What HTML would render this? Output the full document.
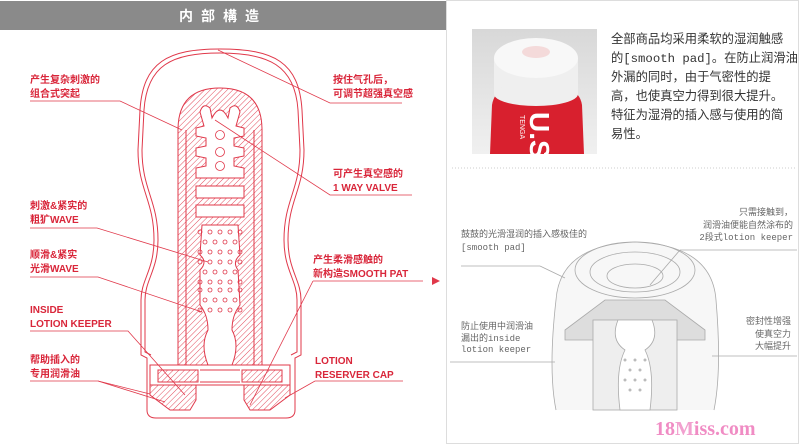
<!DOCTYPE html>
<html><head><meta charset="utf-8"><style>
html,body{margin:0;padding:0;background:#fff;width:800px;height:444px;overflow:hidden}
svg{display:block}
.r{font-family:"Liberation Sans","Noto Sans CJK SC",sans-serif;font-size:10px;font-weight:bold;fill:#d9263a}
.g{font-family:"Liberation Mono","Noto Sans CJK SC",monospace;font-size:9px;fill:#666}
.t{font-family:"Liberation Mono","Noto Sans CJK SC",monospace;font-size:12.3px;fill:#333}
</style></head><body>
<svg width="800" height="444" viewBox="0 0 800 444" xmlns="http://www.w3.org/2000/svg">
<defs>
<pattern id="h" width="4" height="4" patternUnits="userSpaceOnUse" patternTransform="rotate(45)">
<rect width="4" height="4" fill="#fff"/><line x1="0" y1="0" x2="0" y2="4" stroke="#e0384a" stroke-width="0.9"/></pattern>
<linearGradient id="bg" x1="0" y1="0" x2="0" y2="1"><stop offset="0" stop-color="#d8d8d8"/><stop offset="1" stop-color="#f0f0f0"/></linearGradient>
</defs>
<rect x="0" y="1" width="446" height="29" fill="#8a8a8a"/>
<text x="223" y="21" text-anchor="middle" font-family="Liberation Sans,Noto Sans CJK SC,sans-serif" font-size="14" font-weight="bold" fill="#fff" letter-spacing="8">内部構造</text>
<rect x="446.5" y="0.5" width="352" height="443" fill="none" stroke="#ddd"/>

<g fill="none" stroke="#e0384a" stroke-width="1">
<path d="M220,49 C168,49 143,62 140,110 L138,150 C138,190 154,200 154,240 C154,270 141,280 141,300 L141,355 L147,358 L147,410 Q147,418 156,418 L286,418 Q295,418 295,410 L295,358 L301,355 L301,300 C301,280 288,270 288,240 C288,200 304,190 304,150 L302,110 C299,62 274,49 220,49 Z"/>
<path d="M220,53 C172,53 147,65 144,110 L142,150 C142,190 158,200 158,240 C158,270 145,280 145,300 L145,352 L151,355"/>
<path d="M220,53 C268,53 295,65 298,110 L300,150 C300,190 284,200 284,240 C284,270 297,280 297,300 L297,352 L291,355"/>
</g>
<path d="M178,365 L178,130 Q178,88 220,88 Q262,88 262,130 L262,365 Z" fill="url(#h)" stroke="#e0384a"/>
<line x1="186" y1="130" x2="186" y2="365" stroke="#e0384a"/>
<line x1="254" y1="130" x2="254" y2="365" stroke="#e0384a"/>
<path d="M200,112 Q203,102 210,108 L212,118 Q220,102 228,118 L230,108 Q237,102 240,112 L236,126 L244,128 L244,136 L234,138 L234,146 L244,148 L244,156 L234,158 L234,166 L244,168 L244,178 L196,178 L196,168 L206,166 L206,158 L196,156 L196,148 L206,146 L206,138 L196,136 L196,128 L204,126 Z" fill="#fff" stroke="#e0384a"/>
<rect x="196" y="186" width="48" height="12" fill="#fff" stroke="#e0384a"/>
<rect x="196" y="205" width="48" height="12" fill="#fff" stroke="#e0384a"/>
<path d="M202,225 L238,225 L240,255 Q232,262 238,270 L240,305 Q232,315 232,330 Q240,345 232,365 L208,365 Q200,345 208,330 Q208,315 200,305 L200,270 Q208,262 200,255 Z" fill="#fff" stroke="#e0384a"/>
<g fill="none" stroke="#e0384a" stroke-width="0.8">
<circle cx="220" cy="135" r="4.5"/><circle cx="220" cy="152" r="4.5"/><circle cx="220" cy="166" r="4.5"/>
<g id="dots">
<circle cx="200" cy="232" r="2"/><circle cx="210" cy="232" r="2"/><circle cx="220" cy="232" r="2"/><circle cx="230" cy="232" r="2"/><circle cx="240" cy="232" r="2"/>
<circle cx="205" cy="242" r="2"/><circle cx="215" cy="242" r="2"/><circle cx="225" cy="242" r="2"/><circle cx="235" cy="242" r="2"/>
<circle cx="200" cy="252" r="2"/><circle cx="210" cy="252" r="2"/><circle cx="220" cy="252" r="2"/><circle cx="230" cy="252" r="2"/><circle cx="240" cy="252" r="2"/>
</g>
<use href="#dots" y="30"/><use href="#dots" y="58"/>
</g>
<g stroke="#e0384a" fill="none">
<rect x="150" y="365" width="140" height="20" fill="#fff"/>
<rect x="158" y="370" width="40" height="12" fill="url(#h)"/>
<rect x="242" y="370" width="40" height="12" fill="url(#h)"/>
<path d="M150,385 L196,385 L196,400 L190,410 L170,410 L150,395 Z" fill="url(#h)"/>
<path d="M290,385 L244,385 L244,400 L250,410 L270,410 L290,395 Z" fill="url(#h)"/>
<line x1="200" y1="370" x2="240" y2="370"/><line x1="200" y1="382" x2="240" y2="382"/>
</g>
<g stroke="#e0384a" stroke-width="0.8" fill="none">
<polyline points="30,101 120,101 182,130"/>
<polyline points="402,103 330,103 218,50"/>
<polyline points="412,195 330,195 215,120"/>
<polyline points="30,228 97,228 208,262"/>
<polyline points="30,277 98,277 202,312"/>
<polyline points="313,281 423,281"/>
<polyline points="313,281 250,405"/>
<polyline points="30,331 128,331 185,395"/>
<polyline points="30,381 98,381 150,394"/>
<line x1="98" y1="381" x2="165" y2="402"/>
<polyline points="403,381 315,381 285,398"/>
</g>
<path d="M432,277 L440,281 L432,285 Z" fill="#e0384a"/>
<text class="r" x="30" y="83">产生复杂刺激的</text><text class="r" x="30" y="97">组合式突起</text>
<text class="r" x="333" y="83">按住气孔后，</text><text class="r" x="333" y="97">可调节超强真空感</text>
<text class="r" x="333" y="177">可产生真空感的</text><text class="r" x="333" y="191">1 WAY VALVE</text>
<text class="r" x="30" y="209">刺激&amp;紧实的</text><text class="r" x="30" y="223">粗犷WAVE</text>
<text class="r" x="30" y="258">顺滑&amp;紧实</text><text class="r" x="30" y="272">光滑WAVE</text>
<text class="r" x="313" y="263">产生柔滑感触的</text><text class="r" x="313" y="277">新构造SMOOTH PAT</text>
<text class="r" x="30" y="313">INSIDE</text><text class="r" x="30" y="327">LOTION KEEPER</text>
<text class="r" x="30" y="363">帮助插入的</text><text class="r" x="30" y="377">专用润滑油</text>
<text class="r" x="315" y="364">LOTION</text><text class="r" x="315" y="378">RESERVER CAP</text>

<!-- photo -->
<rect x="472" y="29" width="125" height="125" fill="url(#bg)"/>
<path d="M490,154 L492,105 Q494,92 505,90 L568,90 Q580,92 582,105 L584,154 Z" fill="#d8202e"/>
<rect x="494" y="58" width="84" height="36" fill="#efefef"/>
<ellipse cx="536" cy="94" rx="42" ry="12" fill="#efefef"/>
<ellipse cx="536" cy="58" rx="42" ry="20" fill="#f8f8f8"/>
<ellipse cx="536" cy="52" rx="14" ry="6" fill="#f4dada"/>
<text x="530" y="112" font-family="Liberation Sans,sans-serif" font-size="28" font-weight="bold" fill="#fff" transform="rotate(90 530 112)">U.S</text>
<text x="520" y="115" font-family="Liberation Sans,sans-serif" font-size="7" fill="#fff" transform="rotate(90 520 115)">TENGA</text>
<text class="t" x="611" y="43">全部商品均采用柔软的湿润触感</text>
<text class="t" x="611" y="62">的[smooth pad]。在防止润滑油</text>
<text class="t" x="611" y="81">外漏的同时，由于气密性的提</text>
<text class="t" x="611" y="100">高，也使真空力得到很大提升。</text>
<text class="t" x="611" y="119">特征为湿滑的插入感与使用的简</text>
<text class="t" x="611" y="138">易性。</text>
<line x1="452" y1="168" x2="795" y2="168" stroke="#ccc" stroke-dasharray="1,2"/>
<g stroke="#aaa" fill="none" stroke-width="0.8">
<path d="M556,410 Q548,370 556,300 Q560,245 635,242 Q712,245 716,300 Q722,370 714,410" fill="#f7f7f7"/>
<ellipse cx="635" cy="270" rx="60" ry="28"/>
<ellipse cx="635" cy="272" rx="45" ry="20"/>
<ellipse cx="635" cy="276" rx="28" ry="12"/>
<path d="M565,330 L605,300 L665,300 L705,330 L705,340 L565,340 Z" fill="#ddd"/>
<rect x="593" y="320" width="84" height="90" fill="#eee"/>
<path d="M618,320 Q610,340 625,350 Q615,370 620,410 L650,410 Q655,370 645,350 Q660,340 652,320 Z" fill="#fff"/>
<line x1="461" y1="266" x2="540" y2="266"/><line x1="540" y1="266" x2="565" y2="278"/>
<line x1="450" y1="362" x2="555" y2="362"/>
<line x1="680" y1="250" x2="797" y2="250"/><line x1="680" y1="250" x2="650" y2="285"/>
<line x1="712" y1="356" x2="797" y2="356"/>
</g>
<g fill="#bbb"><circle cx="625" cy="360" r="1.5"/><circle cx="635" cy="360" r="1.5"/><circle cx="645" cy="360" r="1.5"/><circle cx="630" cy="370" r="1.5"/><circle cx="640" cy="370" r="1.5"/><circle cx="625" cy="380" r="1.5"/><circle cx="635" cy="380" r="1.5"/><circle cx="645" cy="380" r="1.5"/><circle cx="630" cy="390" r="1.5"/><circle cx="640" cy="390" r="1.5"/></g>
<text class="g" x="461" y="237">鼓鼓的光滑湿润的插入感极佳的</text>
<text class="g" x="461" y="250">[smooth pad]</text>
<text class="g" x="793" y="215" text-anchor="end">只需接触到，</text>
<text class="g" x="793" y="228" text-anchor="end">润滑油便能自然涂布的</text>
<text class="g" x="793" y="240" text-anchor="end">2段式lotion keeper</text>
<text class="g" x="461" y="329">防止使用中润滑油</text>
<text class="g" x="461" y="341">漏出的inside</text>
<text class="g" x="461" y="352">lotion keeper</text>
<text class="g" x="791" y="324" text-anchor="end">密封性增强</text>
<text class="g" x="791" y="337" text-anchor="end">使真空力</text>
<text class="g" x="791" y="349" text-anchor="end">大幅提升</text>
<text x="655" y="435" font-family="Liberation Serif,serif" font-size="20" font-weight="bold" fill="#f08cc4">18<tspan fill="#f2a0cf">M</tspan>iss.com</text>
</svg>
</body></html>
